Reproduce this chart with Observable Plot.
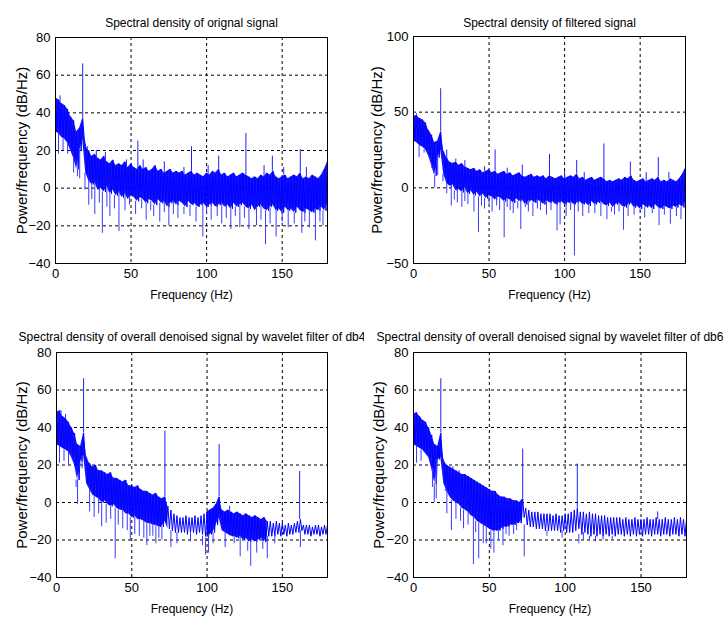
<!DOCTYPE html>
<html>
<head>
<meta charset="utf-8">
<script src="https://cdn.jsdelivr.net/npm/d3@7"></script>
<script src="https://cdn.jsdelivr.net/npm/@observablehq/plot@0.6"></script>
<style>
  html, body { margin: 0; padding: 0; background: #fff; }
  #wrap { position: relative; width: 728px; height: 620px; background: #fff; overflow: hidden; }
  .cell { position: absolute; width: 364px; height: 310px; }
</style>
</head>
<body>
<div id="wrap"></div>
<script>
// Sample frequencies (Hz) of the read envelopes, every 2 Hz from 0 to 180
const freqs = d3.range(0, 181, 2);

// ---- Panel 1: original signal ----
const p1Hi = [48,47,45,44,42,38,36,30,32,37,22,20,17,18,16,15,17,14,13,15,12,13,12,14,11,13,11,10,12,10,11,9,10,12,9,10,8,9,10,8,9,8,9,7,8,9,7,8,7,6,8,7,9,8,10,7,8,6,7,8,6,7,8,7,6,5,6,5,7,6,8,7,9,6,5,6,7,5,6,7,6,8,5,6,5,7,6,5,7,10,14];
const p1Lo = [30,29,27,26,24,20,16,10,20,26,8,4,2,3,-1,0,-2,1,-3,-1,-4,-2,-5,-3,-6,-4,-5,-7,-5,-6,-8,-6,-7,-9,-6,-8,-7,-10,-8,-7,-9,-7,-8,-10,-7,-9,-8,-10,-9,-8,-10,-9,-8,-10,-9,-8,-10,-9,-11,-8,-10,-9,-8,-10,-11,-9,-12,-10,-9,-11,-12,-10,-9,-12,-11,-13,-10,-12,-11,-13,-10,-12,-13,-11,-12,-13,-11,-12,-10,-12,-8];
const p1Up = [[0,75],[18,66],[54.5,25],[90,22],[108,17],[126,29],[143.5,17],[162,20.5],[21,22],[27,20],[33,19],[47,15],[72,14],[85,11],[138,12],[166,11],[3,49],[58,15],[101,12],[151,11]];
const p1Down = [[2,18],[5,20],[8,18],[12,8],[14.5,6],[16,5],[19.5,-1],[22,-9],[24,-6],[26,-14],[29,-8],[31,-24],[34,-10],[36,-15],[39,-11],[42,-23],[46,-12],[49,-9],[53,-14],[57,-11],[60,-17],[63,-12],[65,-15],[69,-18],[72,-13],[75,-20],[78,-14],[81,-16],[85,-14],[89,-15],[93,-18],[97.5,-26],[100,-14],[103,-17],[107,-15],[110,-19],[113,-16],[116,-22],[119,-15],[122,-21],[125,-16],[128,-22],[133,-20],[136,-17],[139,-30],[142,-19],[146,-26],[150,-18],[154,-21],[158,-19],[163,-24],[165,-18],[168,-21],[172,-28],[175,-18],[177,-20]];

// ---- Panel 2: filtered signal ----
const p2Hi = [47,48,46,45,43,38,35,30,31,37,24,20,17,16,17,15,16,14,13,12,13,11,12,10,11,12,10,11,9,10,11,9,10,8,9,10,8,7,8,9,7,8,7,8,6,8,7,6,7,8,6,7,8,7,9,6,7,5,6,7,5,6,7,6,4,5,4,5,6,5,7,6,8,5,4,5,6,4,5,6,5,7,4,5,4,6,5,4,6,9,13];
const p2Lo = [31,30,28,27,25,21,15,8,20,25,9,3,1,2,-2,-1,-3,0,-4,-2,-5,-3,-6,-4,-7,-5,-6,-8,-6,-7,-9,-7,-8,-10,-7,-9,-8,-11,-9,-8,-10,-8,-9,-11,-8,-10,-9,-11,-10,-9,-11,-10,-9,-11,-10,-9,-11,-10,-12,-9,-11,-10,-9,-11,-12,-10,-13,-11,-10,-12,-13,-11,-10,-13,-12,-14,-11,-13,-12,-14,-11,-13,-14,-12,-13,-14,-12,-13,-11,-13,-9];
const p2Up = [[18,65.5],[54,25],[72,15],[90,22],[108,18],[126,29],[143.5,17],[162,20],[2,49],[22,25],[28,19],[34,18],[47,14],[62,13],[100,11],[113,10],[154,10],[169,10]];
const p2Down = [[0,7],[3.7,20],[7,23],[12,13],[14,0],[16,8],[19.5,4],[22,-4],[25,-12],[27,-8],[29,-10],[32,-13],[34,-9],[36,-11],[40,-16],[43,-29.5],[45,-12],[47,-14],[50,-11],[52,-16],[55,-12],[57,-15],[60,-33],[62,-13],[64,-15],[66,-17],[69,-14],[71,-27.5],[74,-13],[76,-16],[79,-19],[82,-14],[84,-15],[88,-18],[91,-15],[95,-28.5],[97,-24.5],[101,-19],[104,-15],[106.5,-45],[109,-16],[112,-19],[116,-17],[120,-17],[124,-19],[128,-21],[131,-16],[133,-18],[136,-16],[139,-28],[142,-19],[146,-18],[150,-16],[153,-20],[158,-17],[162.5,-25],[166,-18],[170,-24],[174,-19],[177,-21]];

// ---- Panel 3: denoised by db4 ----
const p3Hi = [48,49,46,45,43,40,37,31,30,37,24,21,19,20,17,17,16,15,16,13,13,12,11,12,9,9,8,9,7,6,6,5,4,5,3,2,3,-2,-4,-6,-7,-8,-8,-7,-8,-8,-7,-8,-7,-6,-5,-4,-3,-1,3,-4,-5,-4,-5,-6,-5,-6,-7,-6,-7,-8,-7,-8,-9,-8,-10,-10,-11,-10,-11,-11,-12,-11,-12,-11,-10,-9,-12,-12,-12,-13,-12,-12,-13,-12,-12];
const p3Lo = [31,30,29,28,27,24,20,12,22,25,10,7,4,3,2,0,1,-1,-2,-1,-3,-4,-4,-6,-6,-8,-7,-9,-9,-10,-11,-11,-12,-12,-13,-13,-10,-14,-15,-16,-16,-16,-16,-17,-16,-16,-17,-16,-17,-18,-19,-17,-16,-12,-8,-15,-16,-17,-18,-18,-19,-18,-20,-19,-21,-20,-21,-20,-19,-21,-18,-18,-18,-17,-18,-17,-18,-17,-17,-16,-16,-15,-17,-17,-18,-17,-17,-18,-17,-17,-16];
const p3Up = [[18,66],[72,38],[108,31],[161.5,16.5],[115,-2],[3,49],[6,47]];
const p3Down = [[0,8],[2,21],[5,22],[8,20],[13,8],[14,-1],[17,18],[22,-5],[25,-8],[28,-6],[30,-13],[33,-11],[36,-9],[39,-30],[41,-12],[44,-14],[47,-15],[49,-20],[52,-17],[55,-18],[58,-19],[60,-23],[62,-18],[64,-18],[66,-22],[68,-19],[70,-20],[76,-24],[80,-22],[89,-21],[97,-23],[99,-28],[101,-27],[104,-22],[112,-24],[118,-22],[122,-29],[127,-26],[129,-34],[133,-27],[137,-25],[140,-30],[145,-22],[162,-24]];

// ---- Panel 4: denoised by db6 ----
const p4Hi = [47,48,46,44,43,40,36,31,30,37,22,20,19,18,17,16,15,15,14,13,12,11,10,9,8,7,6,6,4,3,3,2,2,1,1,0,2,-3,-4,-5,-5,-5,-6,-6,-6,-6,-7,-6,-7,-7,-6,-6,-5,-4,-3,-5,-5,-6,-5,-6,-6,-7,-7,-7,-8,-8,-8,-8,-8,-9,-8,-9,-9,-8,-9,-9,-9,-8,-9,-9,-8,-9,-9,-8,-9,-9,-8,-9,-8,-9,-9];
const p4Lo = [31,30,29,28,26,24,18,10,23,24,10,6,3,1,0,-1,-3,-4,-5,-7,-8,-10,-11,-12,-13,-14,-15,-15,-15,-14,-13,-13,-12,-12,-11,-11,-8,-12,-13,-13,-14,-14,-14,-15,-15,-15,-15,-15,-16,-15,-16,-16,-16,-15,-14,-17,-16,-17,-18,-17,-18,-17,-18,-17,-18,-17,-18,-17,-17,-18,-17,-18,-17,-18,-17,-18,-17,-17,-18,-17,-17,-18,-17,-17,-18,-17,-17,-18,-17,-18,-17];
const p4Up = [[18,66],[72,28.5],[108,20.5],[161,-5],[22,20],[26,19],[30,17]];
const p4Down = [[0,8],[2,21],[5,22],[12.5,8],[13.7,0],[15,2],[21,7],[22,-6],[25,-15],[28,-9],[31,-10],[33,-14],[36,-12],[39.5,-33],[41,-16],[43,-30],[46,-22],[48,-22],[51,-25],[53,-27],[56,-20],[59,-23],[61,-17],[63,-18],[66,-17],[68,-15],[73,-29],[88,-18],[98,-19],[109,-22],[112,-20],[116,-20],[120,-21],[125,-20],[131,-20]];

// Axis ticks and texts
const xTicks = [0, 50, 100, 150];
const yTicks80 = [-40, -20, 0, 20, 40, 60, 80];
const yTicks100 = [-50, 0, 50, 100];
const titles = [
  "Spectral density of orignal signal",
  "Spectral density of filtered signal",
  "Spectral density of overall denoised signal by wavelet filter of db4",
  "Spectral density of overall denoised signal by wavelet filter of db6"
];
const xLabel = "Frequency (Hz)";
const yLabel = "Power/frequency (dB/Hz)";

const panels = [
  {hi:p1Hi, lo:p1Lo, up:p1Up, down:p1Down, yDomain:[-40,80], yTicks:yTicks80, title:titles[0],
   left:0, top:0, m:[37,37,47,55], solid:[[0,180]], titleDy:-11, ylabDx:-33},
  {hi:p2Hi, lo:p2Lo, up:p2Up, down:p2Down, yDomain:[-50,100], yTicks:yTicks100, title:titles[1],
   left:364, top:0, m:[36,43,47,49], solid:[[0,180]], titleDy:-10, ylabDx:-36},
  {hi:p3Hi, lo:p3Lo, up:p3Up, down:p3Down, yDomain:[-40,80], yTicks:yTicks80, title:titles[2],
   left:0, top:310, m:[42,37,43,56], solid:[[0,74],[100,140]], titleDy:-12, ylabDx:-34},
  {hi:p4Hi, lo:p4Lo, up:p4Up, down:p4Down, yDomain:[-40,80], yTicks:yTicks80, title:titles[3],
   left:364, top:310, m:[42,42,43,49], solid:[[0,72]], titleDy:-12, ylabDx:-34}
];

const BLUE = "#0000ff";

function makePanel(cfg) {
  const band = freqs.map((f, i) => ({f, hi: cfg.hi[i], lo: cfg.lo[i]}));
  const zig = [];
  freqs.forEach((f, i) => {
    zig.push({f, v: cfg.hi[i]});
    if (f < 180) zig.push({f: f + 1, v: cfg.lo[i]});
  });
  const idx = f => Math.min(freqs.length - 1, Math.round(f / 2));
  const up = cfg.up.map(([f, v]) => ({f, y1: cfg.hi[idx(f)], y2: v}));
  const dn = cfg.down.map(([f, v]) => ({f, y1: cfg.lo[idx(f)], y2: v}));
  const [lo, hi] = cfg.yDomain;
  const yGrid = cfg.yTicks.filter(t => t > lo && t < hi);
  const [mt, mr, mb, ml] = cfg.m;
  return Plot.plot({
    width: 364, height: 310,
    marginTop: mt, marginRight: mr, marginBottom: mb, marginLeft: ml,
    style: {fontFamily: "'Liberation Sans', Arial, sans-serif", fontSize: "13px", color: "#000", background: "#fff", overflow: "visible"},
    x: {domain: [0, 180], ticks: xTicks, tickSize: 0, tickPadding: 5, label: null},
    y: {domain: cfg.yDomain, ticks: cfg.yTicks, tickSize: 0, tickPadding: 5, label: null},
    marks: [
      Plot.ruleX(xTicks.filter(t => t > 0), {stroke: "#000", strokeDasharray: "3,3"}),
      Plot.ruleY(yGrid, {stroke: "#000", strokeDasharray: "3,3"}),
      ...cfg.solid.map(([a, b]) => Plot.areaY(band.filter(d => d.f >= a && d.f <= b),
        {x: "f", y1: "lo", y2: "hi", fill: BLUE, fillOpacity: 0.92, clip: true})),
      Plot.line(zig, {x: "f", y: "v", stroke: BLUE, strokeWidth: 1, clip: true}),
      Plot.ruleX(up, {x: "f", y1: "y1", y2: "y2", stroke: "#2020ff", strokeWidth: 1, clip: true}),
      Plot.ruleX(dn, {x: "f", y1: "y1", y2: "y2", stroke: "#3a3aff", strokeWidth: 1, clip: true}),
      Plot.frame({stroke: "#000"}),
      Plot.text([cfg.title], {frameAnchor: "top", textAnchor: "middle", lineAnchor: "bottom", dy: cfg.titleDy, fontSize: 12, fill: "#000"}),
      Plot.text([xLabel], {frameAnchor: "bottom", textAnchor: "middle", lineAnchor: "top", dy: 27, fontSize: 12, fill: "#000"}),
      Plot.text([yLabel], {frameAnchor: "left", textAnchor: "middle", lineAnchor: "middle", rotate: -90, dx: cfg.ylabDx, fontSize: 15, fill: "#000"})
    ]
  });
}

const wrap = document.getElementById("wrap");
panels.forEach(cfg => {
  const cell = document.createElement("div");
  cell.className = "cell";
  cell.style.left = cfg.left + "px";
  cell.style.top = cfg.top + "px";
  cell.appendChild(makePanel(cfg));
  wrap.appendChild(cell);
});
</script>
</body>
</html>
